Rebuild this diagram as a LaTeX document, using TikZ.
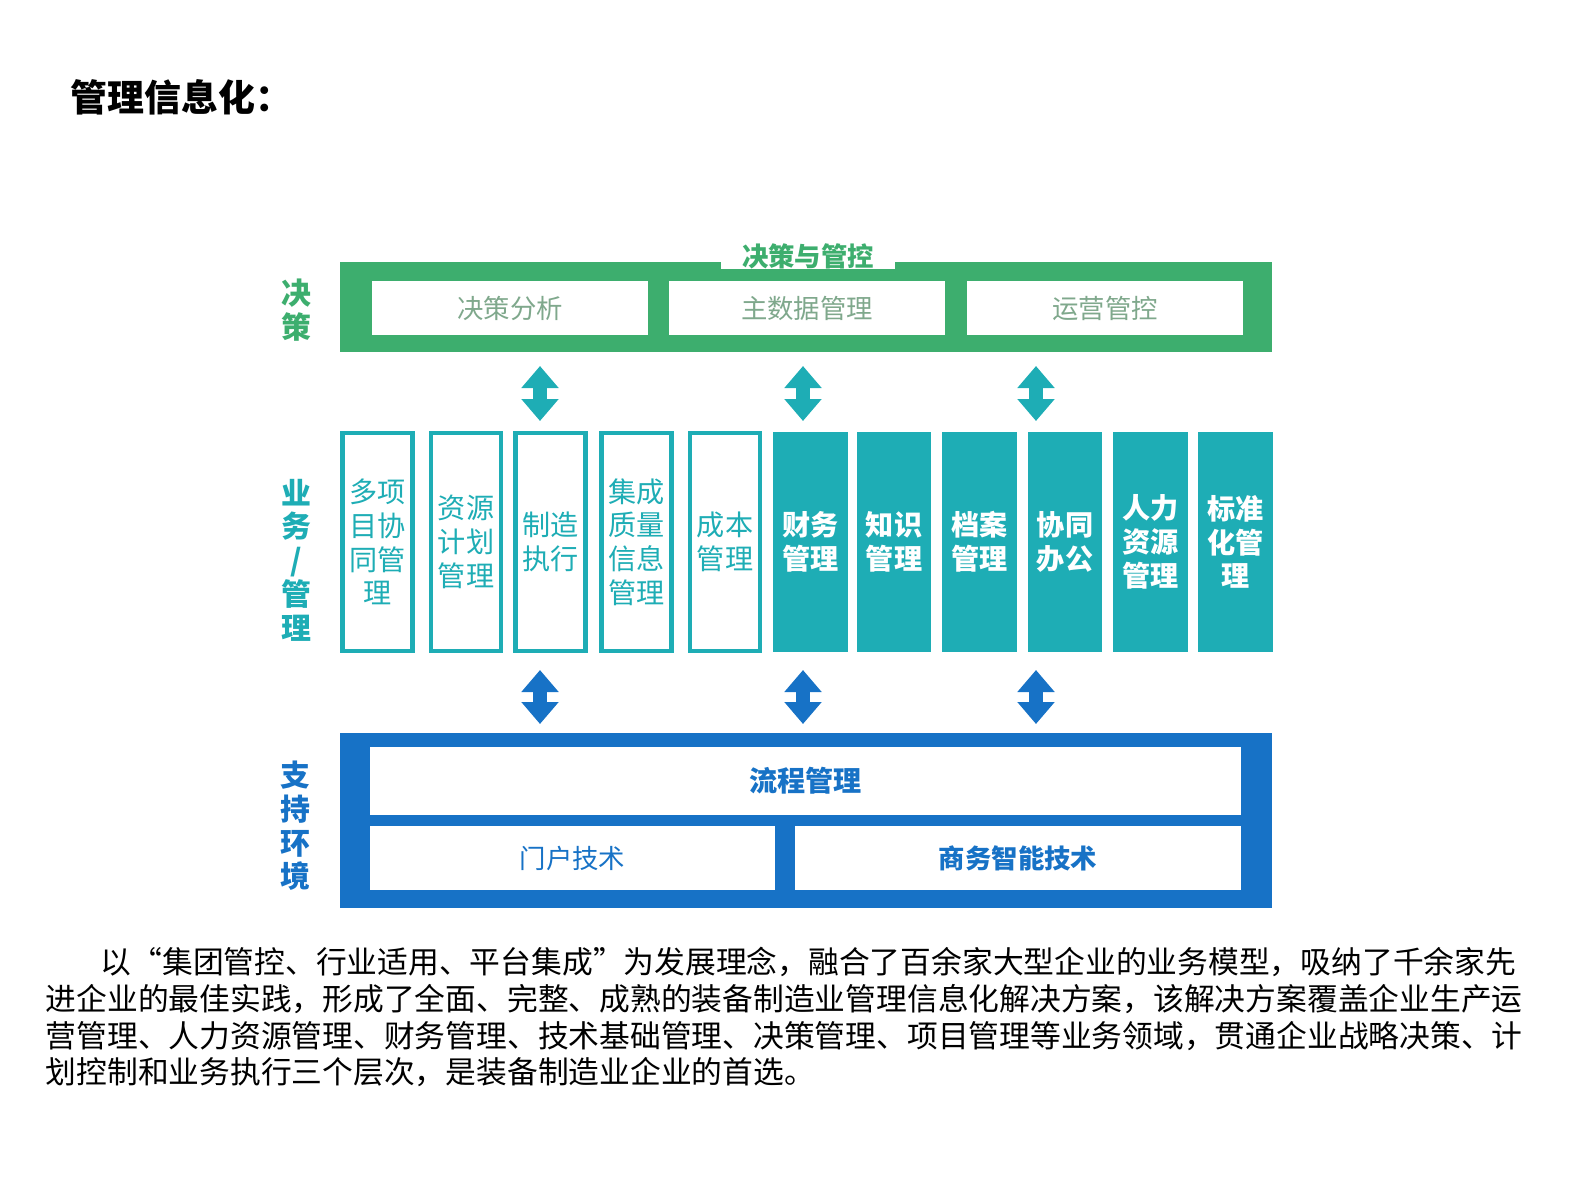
\documentclass[tikz,border=0pt]{standalone}
\usepackage{fontspec}
\setmainfont{Noto Sans CJK SC}
\usetikzlibrary{arrows.meta}
\definecolor{gr}{HTML}{3DAE6E}
\definecolor{tl}{HTML}{1EADB5}
\definecolor{bl}{HTML}{1772C6}
\definecolor{gtx}{HTML}{7FA88C}
\tikzset{
 wbox/.style={draw=none,fill=white,minimum height=#1,inner sep=0},
 ocol/.style={draw=tl,line width=1.2pt,fill=white,minimum width=0.70cm,minimum height=2.18cm,text=tl,align=center,font=\fontsize{8}{9.6}\selectfont,inner sep=0},
 fcol/.style={fill=tl,minimum width=0.74cm,minimum height=2.2cm,text=white,align=center,font=\fontsize{8}{9.6}\selectfont\bfseries,inner sep=0},
 side/.style={align=center,font=\fontsize{8.5}{9.6}\selectfont\bfseries},
 darr/.style={line width=1.4mm,{Triangle[length=2.2mm,width=3.6mm]}-{Triangle[length=2.2mm,width=3.6mm]}},
 para/.style={anchor=west,inner sep=0,font=\fontsize{8.75}{10}\selectfont}
}
\begin{document}
\begin{tikzpicture}[x=0.01cm,y=-0.01cm]
\useasboundingbox (0,0) rectangle (1587,1190);
\node[anchor=west,inner sep=0,font=\fontsize{10.5}{12}\selectfont\bfseries] (title) at (70,97) {管理信息化：};
% top band
\fill[gr] (340,262) rectangle (1272,352);
\node[fill=white,minimum width=1.73cm,minimum height=0.22cm,inner sep=0,text=gr,font=\fontsize{7.5}{8}\selectfont\bfseries] (tab) at (808,256) {决策与管控};
\node[wbox=0.54cm,minimum width=2.75cm,text=gtx,font=\fontsize{7.5}{9}\selectfont] (d1) at (510,308) {决策分析};
\node[wbox=0.54cm,minimum width=2.75cm,text=gtx,font=\fontsize{7.5}{9}\selectfont] (d2) at (807,308) {主数据管理};
\node[wbox=0.54cm,minimum width=2.76cm,text=gtx,font=\fontsize{7.5}{9}\selectfont] (d3) at (1105,308) {运营管控};
\node[side,text=gr] (s1) at (296,310) {决\\策};
\node[side,text=tl] (s2) at (296,560) {业\\务\\/\\管\\理};
\node[side,text=bl] (s3) at (295,826) {支\\持\\环\\境};
% middle columns
\node[ocol] (c1) at (377.5,542) {多项\\目协\\同管\\理};
\node[ocol] (c2) at (466,542) {资源\\计划\\管理};
\node[ocol] (c3) at (550.5,542) {制造\\执行};
\node[ocol] (c4) at (636.5,542) {集成\\质量\\信息\\管理};
\node[ocol] (c5) at (725,542) {成本\\管理};
\node[fcol] (f1) at (810.5,542) {财务\\管理};
\node[fcol] (f2) at (894,542) {知识\\管理};
\node[fcol] (f3) at (979.5,542) {档案\\管理};
\node[fcol] (f4) at (1065,542) {协同\\办公};
\node[fcol] (f5) at (1150.5,542) {人力\\资源\\管理};
\node[fcol] (f6) at (1235.5,542) {标准\\化管\\理};
% bottom band
\fill[bl] (340,733) rectangle (1272,908);
\node[wbox=0.68cm,minimum width=8.71cm,text=bl,font=\fontsize{8}{9}\selectfont\bfseries] (b1) at (805.5,781) {流程管理};
\node[wbox=0.64cm,minimum width=4.05cm,text=bl,font=\fontsize{7.5}{9}\selectfont] (b2) at (572.5,858) {门户技术};
\node[wbox=0.64cm,minimum width=4.46cm,text=bl,font=\fontsize{7.5}{9}\selectfont\bfseries] (b3) at (1018,858) {商务智能技术};
% arrows
\foreach \x/\n in {540/a,803/b,1036/c}{
 \coordinate (u\n) at (\x,366); \coordinate (v\n) at (\x,421);
 \draw[darr,tl] (u\n) -- (v\n);
 \coordinate (p\n) at (\x,670); \coordinate (q\n) at (\x,724);
 \draw[darr,bl] (p\n) -- (q\n);
}
% paragraph
\node[para] (l1) at (100,962) {以“集团管控、行业适用、平台集成”为发展理念，融合了百余家大型企业的业务模型，吸纳了千余家先};
\node[para] (l2) at (45,999) {进企业的最佳实践，形成了全面、完整、成熟的装备制造业管理信息化解决方案，该解决方案覆盖企业生产运};
\node[para] (l3) at (45,1036) {营管理、人力资源管理、财务管理、技术基础管理、决策管理、项目管理等业务领域，贯通企业战略决策、计};
\node[para] (l4) at (45,1072) {划控制和业务执行三个层次，是装备制造业企业的首选。};
\end{tikzpicture}
\end{document}
